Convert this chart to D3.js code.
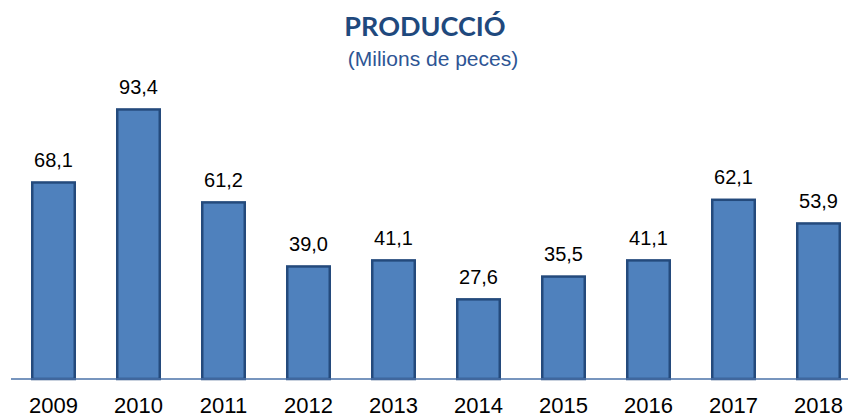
<!DOCTYPE html>
<html><head><meta charset="utf-8">
<script src="https://cdn.jsdelivr.net/npm/d3@7"></script>
<style>body{margin:0;background:#fff}svg{display:block}</style>
</head><body><svg id="c" width="848" height="418"></svg>
<script>
const years = ["2009","2010","2011","2012","2013","2014","2015","2016","2017","2018"];
const values = [68.1, 93.4, 61.2, 39.0, 41.1, 27.6, 35.5, 41.1, 62.1, 53.9];
const title = "PRODUCCIÓ";
const subtitle = "(Milions de peces)";

const svg = d3.select("#c");
const x = d3.scaleBand().domain(years).range([11, 861]).paddingInner(0.5).paddingOuter(0.25);
const y = d3.scaleLinear().domain([0, 100]).range([379, 90.4]);
const fmt = v => d3.format(".1f")(v).replace(".", ",");

svg.append("text").attr("x", 425).attr("y", 36).attr("text-anchor", "middle")
  .attr("font-family", "Lato, 'Open Sans', sans-serif").attr("font-weight", "bold")
  .attr("font-size", 27).attr("fill", "#1F497D").text(title);
svg.append("text").attr("x", 433).attr("y", 66).attr("text-anchor", "middle")
  .attr("font-family", "'Liberation Sans', Arial, sans-serif")
  .attr("font-size", 21).attr("fill", "#2E5594").text(subtitle);

svg.selectAll("rect.bar").data(values).join("rect").attr("class", "bar")
  .attr("x", (d, i) => x(years[i]))
  .attr("y", d => y(d))
  .attr("width", x.bandwidth())
  .attr("height", d => y(0) - y(d))
  .attr("fill", "#4F81BD").attr("stroke", "#244A7C").attr("stroke-width", 2.5);

svg.selectAll("text.val").data(values).join("text").attr("class", "val")
  .attr("x", (d, i) => x(years[i]) + x.bandwidth() / 2)
  .attr("y", d => y(d) - 15.5)
  .attr("text-anchor", "middle")
  .attr("font-family", "'Liberation Sans', Arial, sans-serif")
  .attr("font-size", 20).attr("fill", "#000").text(fmt);

const axis = d3.axisBottom(x).tickSize(0).tickPadding(0);
const g = svg.append("g").attr("transform", `translate(0,${y(0)})`).call(axis);
g.select(".domain").attr("stroke", "#4A72A8").attr("stroke-width", 1.5)
  .attr("d", `M11,0H848`);
g.selectAll(".tick text").attr("y", 34).attr("dy", 0)
  .attr("font-family", "'Liberation Sans', Arial, sans-serif")
  .attr("font-size", 22).attr("fill", "#000");
</script></body></html>
